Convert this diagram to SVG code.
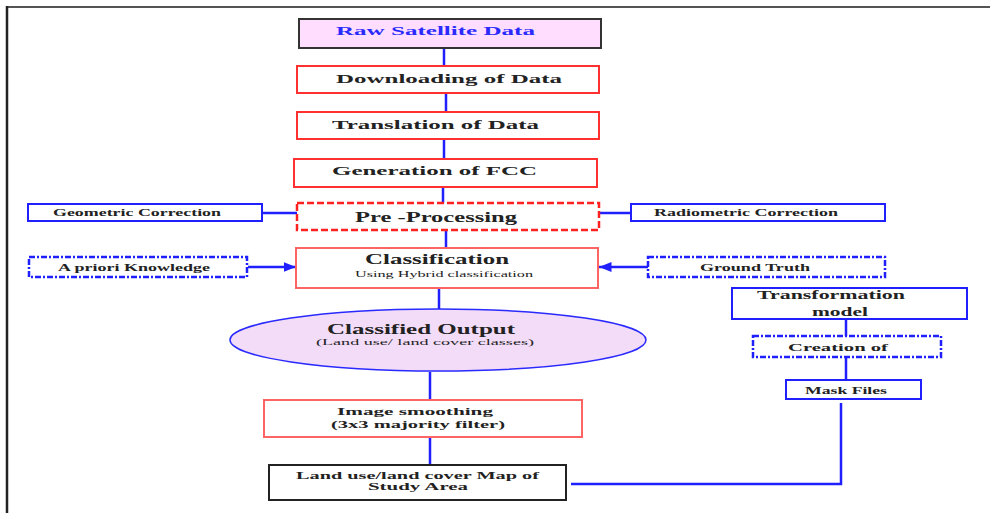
<svg xmlns="http://www.w3.org/2000/svg" width="990" height="513" viewBox="0 0 990 513">
<defs>
<style>
text{font-family:"Liberation Serif","Times New Roman","DejaVu Serif",serif;font-weight:bold;fill:#222;}
.red{fill:#fff;stroke:#ff3030;stroke-width:2;}
.red2{fill:#fff;stroke:#ff6464;stroke-width:2;}
.blue{fill:#fff;stroke:#2020ff;stroke-width:2;}
.bdash{fill:#fff;stroke:#2020ff;stroke-width:2.5;stroke-dasharray:6 2 2 2;}
.rdash{fill:#fff;stroke:#ff2020;stroke-width:2.5;stroke-dasharray:7 3;}
.c{fill:none;stroke:#2020ff;stroke-width:2.5;}
</style>
<marker id="ah" viewBox="0 0 10 10" refX="10" refY="5" markerWidth="5" markerHeight="5" orient="auto" markerUnits="strokeWidth">
<path d="M0,1 L10,5 L0,9 Z" fill="#2020ff"/>
</marker>
</defs>
<rect width="990" height="513" fill="#fff"/>
<g id="frame">
<line x1="6" y1="7" x2="990" y2="7" stroke="#555" stroke-width="2"/>
<line x1="7" y1="6" x2="7" y2="513" stroke="#222" stroke-width="2.5"/>
</g>
<g id="connectors">
<line class="c" x1="444" y1="48" x2="444" y2="66"/>
<line class="c" x1="446" y1="93" x2="446" y2="112"/>
<line class="c" x1="444" y1="139" x2="444" y2="159"/>
<line class="c" x1="443" y1="187" x2="443" y2="203"/>
<line class="c" x1="446" y1="230" x2="446" y2="248"/>
<line class="c" x1="439" y1="288" x2="439" y2="309"/>
<line class="c" x1="430" y1="372" x2="430" y2="400"/>
<line class="c" x1="430" y1="437" x2="430" y2="465"/>
<line class="c" x1="263" y1="213" x2="297" y2="213" stroke-width="1.5"/>
<line class="c" x1="599" y1="213" x2="631" y2="213" stroke-width="1.5"/>
<line class="c" x1="248" y1="267" x2="296" y2="267" marker-end="url(#ah)"/>
<line class="c" x1="648" y1="267" x2="599" y2="267" marker-end="url(#ah)"/>
<line class="c" x1="846" y1="319" x2="846" y2="336"/>
<line class="c" x1="846" y1="357" x2="846" y2="380"/>
<polyline class="c" points="841,403 841,484 571,484"/>
</g>
<g id="raw">
<rect x="299" y="19" width="302" height="29" fill="#ffddff" stroke="#333" stroke-width="2"/>
<text x="336" y="35" font-size="13" textLength="199" lengthAdjust="spacingAndGlyphs" style="fill:#2a2aff">Raw Satellite Data</text>
</g>
<g id="download">
<rect class="red" x="297" y="66" width="302" height="27"/>
<text x="336" y="83" font-size="13" textLength="226" lengthAdjust="spacingAndGlyphs">Downloading of Data</text>
</g>
<g id="translation">
<rect class="red" x="297" y="112" width="302" height="27"/>
<text x="332" y="129" font-size="13" textLength="207" lengthAdjust="spacingAndGlyphs">Translation of Data</text>
</g>
<g id="fcc">
<rect class="red" x="294" y="159" width="303" height="28"/>
<text x="332" y="175" font-size="13" textLength="205" lengthAdjust="spacingAndGlyphs">Generation of FCC</text>
</g>
<g id="preprocessing">
<rect class="rdash" x="297" y="203" width="302" height="27"/>
<text x="355" y="222" font-size="15" textLength="162" lengthAdjust="spacingAndGlyphs">Pre -Processing</text>
</g>
<g id="geometric">
<rect class="blue" x="28" y="204" width="234" height="17"/>
<text x="53" y="216" font-size="10" textLength="168" lengthAdjust="spacingAndGlyphs">Geometric Correction</text>
</g>
<g id="radiometric">
<rect class="blue" x="631" y="204" width="254" height="17"/>
<text x="654" y="216" font-size="10" textLength="184" lengthAdjust="spacingAndGlyphs">Radiometric Correction</text>
</g>
<g id="classification">
<rect class="red2" x="296" y="248" width="302" height="40"/>
<text x="365" y="264" font-size="15" textLength="144" lengthAdjust="spacingAndGlyphs">Classification</text>
<text x="355" y="277" font-size="8" textLength="178" lengthAdjust="spacingAndGlyphs" style="font-weight:normal">Using  Hybrid classification</text>
</g>
<g id="apriori">
<rect class="bdash" x="29" y="257" width="218" height="20"/>
<text x="58" y="271" font-size="10" textLength="152" lengthAdjust="spacingAndGlyphs">A priori Knowledge</text>
</g>
<g id="groundtruth">
<rect class="bdash" x="648" y="257" width="237" height="20"/>
<text x="700" y="271" font-size="10" textLength="110" lengthAdjust="spacingAndGlyphs">Ground Truth</text>
</g>
<g id="output">
<ellipse cx="438" cy="340" rx="208" ry="31" fill="#f2dcf8" stroke="#2a2aff" stroke-width="1.5"/>
<text x="327" y="334" font-size="15" textLength="188" lengthAdjust="spacingAndGlyphs">Classified Output</text>
<text x="316" y="345" font-size="9" textLength="218" lengthAdjust="spacingAndGlyphs" style="font-weight:normal">(Land use/ land cover classes)</text>
</g>
<g id="transformation">
<rect class="blue" x="732" y="288" width="235" height="31"/>
<text x="757" y="299" font-size="12" textLength="148" lengthAdjust="spacingAndGlyphs">Transformation</text>
<text x="812" y="316" font-size="12" textLength="56" lengthAdjust="spacingAndGlyphs">model</text>
</g>
<g id="creation">
<rect class="bdash" x="753" y="336" width="188" height="21"/>
<text x="788" y="351" font-size="11" textLength="100" lengthAdjust="spacingAndGlyphs">Creation of</text>
</g>
<g id="mask">
<rect class="blue" x="786" y="380" width="135" height="19"/>
<text x="805" y="394" font-size="10" textLength="82" lengthAdjust="spacingAndGlyphs">Mask Files</text>
</g>
<g id="smoothing">
<rect class="red2" x="264" y="400" width="318" height="37"/>
<text x="337" y="415" font-size="11" textLength="156" lengthAdjust="spacingAndGlyphs">Image  smoothing</text>
<text x="331" y="428" font-size="11" textLength="174" lengthAdjust="spacingAndGlyphs">(3x3 majority filter)</text>
</g>
<g id="map">
<rect x="269" y="465" width="297" height="35" fill="#fff" stroke="#222" stroke-width="2"/>
<text x="296" y="479" font-size="10" textLength="243" lengthAdjust="spacingAndGlyphs">Land use/land cover Map of</text>
<text x="368" y="490" font-size="10" textLength="100" lengthAdjust="spacingAndGlyphs">Study Area</text>
</g>
</svg>
